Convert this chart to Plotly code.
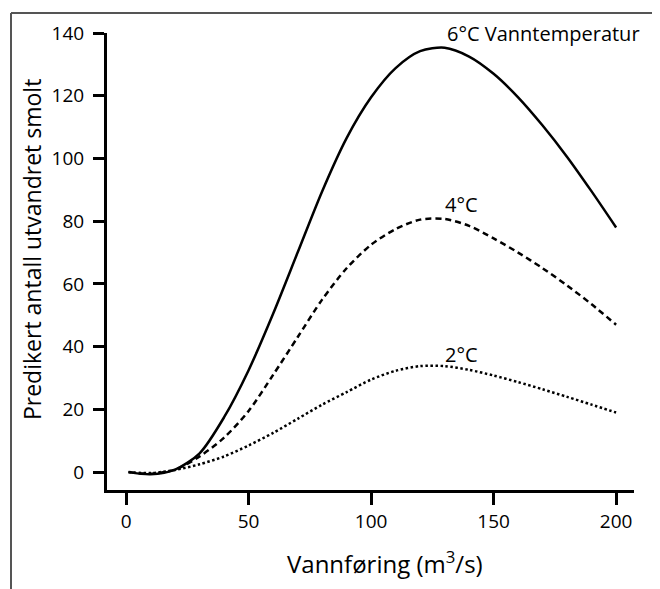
import plotly.graph_objects as go

# Data
flow = [1, 10, 20, 30, 40, 50, 60, 70, 80, 90, 100, 110, 120, 130,
        140, 150, 160, 170, 180, 190, 200]
temp6 = [0, -0.7, 0.8, 6, 17.5, 32.5, 50.5, 70, 89.5, 106.5, 119.5, 128.8, 134.2, 135.3,
         132.5, 127, 119.5, 110.5, 100.5, 89.5, 78]
temp4 = [0, -0.5, 0.8, 5, 11, 19.5, 31, 43, 55, 65, 72.5, 77.5, 80.5, 80.7,
         78.5, 74.5, 70, 65, 59.5, 53.5, 47]
temp2 = [0, -0.3, 0.7, 2.5, 5, 8.5, 12.5, 17, 21.5, 25.5, 29.5, 32.3, 33.8, 33.8,
         32.6, 30.8, 28.7, 26.4, 24, 21.5, 19]

series_names = ["6°C Vanntemperatur", "4°C", "2°C"]
label_x = [170.3, 136.7, 136.7]
label_y = [140, 85.2, 37.5]

x_ticks = [0, 50, 100, 150, 200]
y_ticks = [0, 20, 40, 60, 80, 100, 120, 140]

FONT = "Open Sans"

fig = go.Figure()
for ys, dash in [(temp6, "solid"), (temp4, "6px,4px"), (temp2, "2.5px,2.5px")]:
    fig.add_trace(go.Scatter(x=flow, y=ys, mode="lines",
                             line=dict(color="black", width=2.5, dash=dash, shape="spline", smoothing=0.8),
                             showlegend=False, hoverinfo="skip"))

for name, lx, ly in zip(series_names, label_x, label_y):
    fig.add_annotation(x=lx, y=ly, text=name, showarrow=False, xref="x", yref="y",
                       xanchor="center", yanchor="middle",
                       font=dict(family=FONT, size=20, color="black"))

# helpers: window pixel -> paper coords (plot area spans x 107..634, y 31..490)
px = lambda v: (v - 107) / 527
py = lambda v: (490 - v) / 459

# Axis titles as annotations
fig.add_annotation(x=px(385), y=py(563), xref="paper", yref="paper",
                   xanchor="center", yanchor="middle",
                   text="Vannføring (m<sup>3</sup>/s)", showarrow=False,
                   font=dict(family=FONT, size=24, color="black"))
fig.add_annotation(x=px(32), y=py(249), xref="paper", yref="paper",
                   xanchor="center", yanchor="middle",
                   text="Predikert antall utvandret smolt", showarrow=False, textangle=-90,
                   font=dict(family=FONT, size=23, color="black"))

# Frame lines (left and top)
fig.add_shape(type="line", xref="paper", yref="paper", x0=px(11), y0=py(600), x1=px(11), y1=py(11),
              line=dict(color="#555555", width=2))
fig.add_shape(type="line", xref="paper", yref="paper", x0=px(11), y0=py(11), x1=px(670), y1=py(11),
              line=dict(color="#555555", width=2))

fig.update_xaxes(range=[-7.8, 207.3], tickvals=x_ticks, showline=True, linecolor="black", linewidth=3,
                 ticks="outside", ticklen=12, tickwidth=3, tickcolor="black", showgrid=False,
                 zeroline=False, tickfont=dict(family=FONT, size=19, color="black"))
fig.update_yaxes(range=[-5.7, 140], tickvals=y_ticks, showline=True, linecolor="black", linewidth=3,
                 ticks="outside", ticklen=11, tickwidth=3, tickcolor="black", showgrid=False,
                 zeroline=False, ticklabelstandoff=5, tickfont=dict(family=FONT, size=19, color="black"))

# page body has an 8px margin, so the figure is offset by 8px
fig.update_layout(width=652, height=581, margin=dict(l=99, r=26, t=23, b=99),
                  plot_bgcolor="white", paper_bgcolor="white", font=dict(family=FONT))

fig.write_html("out.html")
